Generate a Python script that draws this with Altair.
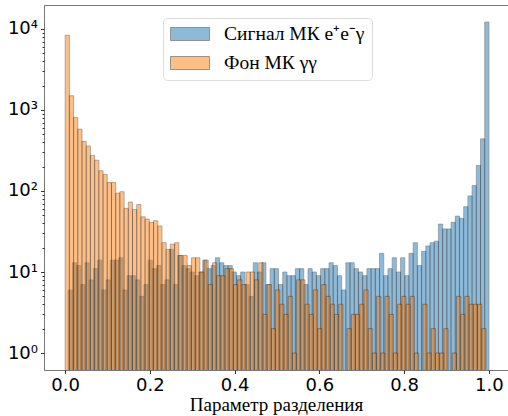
import altair as alt
import pandas as pd

# Histogram counts (100 bins each)
signal_label = "Сигнал МК e⁺e⁻γ\u00a0\u00a0\u00a0\u00a0\u00a0"
background_label = "Фон МК γγ"

signal_counts = [6, 13, 12, 7, 13, 8, 11, 14, 6, 8,
                 14, 14, 15, 6, 9, 9, 8, 5, 7, 14,
                 11, 12, 7, 8, 19, 7, 16, 12, 11, 10,
                 9, 10, 14, 11, 12, 15, 13, 12, 12, 10,
                 9, 10, 7, 5, 13, 10, 13, 7, 11, 11,
                 7, 10, 9, 9, 11, 11, 7, 11, 10, 9,
                 11, 11, 13, 12, 9, 6, 13, 13, 11, 10,
                 9, 11, 11, 11, 17, 9, 11, 15, 10, 15,
                 9, 17, 23, 12, 18, 21, 23, 24, 39, 34,
                 34, 41, 49, 46, 64, 87, 117, 207, 440, 12200]

background_counts = [8360, 1500, 810, 580, 410, 360, 275, 240, 178, 160,
                     127, 127, 94, 98, 61, 73, 59, 68, 48, 45,
                     41, 43, 37, 23, 19, 22, 23, 16, 16, 12,
                     15, 15, 10, 14, 7, 13, 9, 9, 11, 11,
                     7, 8, 7, 10, 10, 8, 13, 3, 7, 2,
                     6, 4, 3, 5, 1, 8, 8, 4, 3, 6,
                     2, 7, 5, 4, 3, 4, 0, 2, 3, 3,
                     4, 6, 2, 1, 5, 1, 5, 3, 1, 4,
                     5, 4, 5, 1, 0, 4, 1, 2, 1, 1,
                     2, 0, 1, 5, 3, 5, 4, 4, 4, 2]

# value range of each sample (histogram range)
signal_range = [0.007, 1.0]
background_range = [0.0, 0.993]

x_ticks = [0.0, 0.2, 0.4, 0.6, 0.8, 1.0]
y_major = [1, 10, 100, 1000, 10000]
y_ticks = [m * d for d in [1, 10, 100, 1000] for m in range(1, 10)] + [10000]


def hist_rows(label, counts, rng):
    lo, hi = rng
    n = len(counts)
    w = (hi - lo) / n
    return [
        {"series": label, "x0": lo + i * w, "x1": lo + (i + 1) * w, "count": c}
        for i, c in enumerate(counts)
    ]


df = pd.DataFrame(hist_rows(signal_label, signal_counts, signal_range)
                  + hist_rows(background_label, background_counts, background_range))
df = df[df["count"] > 0]

major_test = "abs(log(datum.value)/LN10 - round(log(datum.value)/LN10)) < 0.001"

chart = alt.Chart(df).mark_rect(
    opacity=0.5, stroke="black", strokeWidth=0.6, clip=True
).encode(
    x=alt.X("x0:Q",
            scale=alt.Scale(domain=[-0.05, 1.045], nice=False, zero=False),
            axis=alt.Axis(values=x_ticks, format=".1f", title="Параметр разделения",
                          labelFont="DejaVu Sans", labelFontSize=18, labelColor="black",
                          labelPadding=3, tickSize=3.5, tickColor="black", tickWidth=0.8,
                          grid=False, domain=False,
                          titleFont="Liberation Serif", titleFontSize=19,
                          titleFontWeight="normal", titleColor="black", titlePadding=1)),
    x2="x1:Q",
    y=alt.Y("count:Q",
            scale=alt.Scale(type="log", domain=[0.617, 19770], nice=False),
            axis=alt.Axis(values=y_ticks, title=None, grid=False, domain=False,
                          labelExpr="indexof([1,10,100,1000,10000], datum.value) >= 0 ? '10' + ['⁰','¹','²','³','⁴'][round(log(datum.value)/LN10)] : ''",
                          labelOverlap=False,
                          labelFont="DejaVu Sans", labelFontSize=18, labelColor="black",
                          labelPadding=3,
                          tickSize={"condition": {"test": major_test, "value": 3.5}, "value": 2},
                          tickColor="black", tickWidth=0.8)),
    y2=alt.datum(0.3),
    fill=alt.Fill("series:N",
                  scale=alt.Scale(domain=[signal_label, background_label],
                                  range=["#1f77b4", "#ff7f0e"]),
                  legend=alt.Legend(title=None, orient="none", legendX=119, legendY=13,
                                    symbolType="M-1,-0.333L1,-0.333L1,0.333L-1,0.333Z",
                                    symbolSize=1521, symbolOpacity=0.5,
                                    symbolStrokeColor="black", symbolStrokeWidth=0.8,
                                    clipHeight=18, rowPadding=9,
                                    labelFont="Liberation Serif", labelFontSize=19.5,
                                    labelColor="black", labelOffset=14, labelLimit=400,
                                    padding=7, strokeColor="#dcdcdc", fillColor="white",
                                    cornerRadius=4)),
).properties(
    width=464, height=365,
    autosize=alt.AutoSizeParams(type="none"),
    padding={"left": 44, "top": 5, "right": 0, "bottom": 46},
).configure_view(stroke="#777777", strokeWidth=1)

chart.save("out.html", embed_options={"renderer": "svg", "actions": False})
